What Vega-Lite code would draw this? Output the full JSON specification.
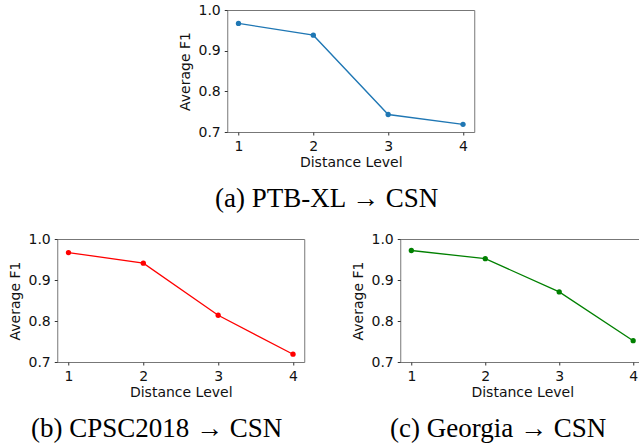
{
  "$schema": "https://vega.github.io/schema/vega-lite/v6.json",
  "padding": {"left": 8, "top": 2, "right": 0, "bottom": 0},
  "background": "white",
  "datasets": {
    "f1": [
      {"panel": "a", "level": 1, "f1": 0.967},
      {"panel": "a", "level": 2, "f1": 0.938},
      {"panel": "a", "level": 3, "f1": 0.743},
      {"panel": "a", "level": 4, "f1": 0.719},
      {"panel": "b", "level": 1, "f1": 0.967},
      {"panel": "b", "level": 2, "f1": 0.941},
      {"panel": "b", "level": 3, "f1": 0.814},
      {"panel": "b", "level": 4, "f1": 0.719},
      {"panel": "c", "level": 1, "f1": 0.972},
      {"panel": "c", "level": 2, "f1": 0.952},
      {"panel": "c", "level": 3, "f1": 0.871},
      {"panel": "c", "level": 4, "f1": 0.752}
    ]
  },
  "data": {"name": "f1"},
  "center": true,
  "spacing": 18,
  "vconcat": [
    {
      "width": 247,
      "height": 122,
      "title": {"text": "(a) PTB-XL → CSN"},
      "transform": [{"filter": "datum.panel == 'a'"}],
      "encoding": {
        "x": {"field": "level", "type": "quantitative", "scale": {"domain": [0.85, 4.15], "nice": false, "zero": false}, "axis": {"values": [1, 2, 3, 4], "format": "d", "title": "Distance Level"}},
        "y": {"field": "f1", "type": "quantitative", "scale": {"domain": [0.7, 1.0], "nice": false, "zero": false}, "axis": {"values": [0.7, 0.8, 0.9, 1.0], "format": ".1f", "title": "Average F1"}}
      },
      "layer": [
        {"mark": {"type": "line", "color": "#1f77b4", "strokeWidth": 1.3}},
        {"mark": {"type": "point", "filled": true, "size": 28, "opacity": 1, "color": "#1f77b4"}}
      ]
    },
    {
      "spacing": 46,
      "hconcat": [
        {
          "width": 247,
          "height": 123,
          "title": {"text": "(b) CPSC2018 → CSN"},
          "transform": [{"filter": "datum.panel == 'b'"}],
          "encoding": {
            "x": {"field": "level", "type": "quantitative", "scale": {"domain": [0.85, 4.15], "nice": false, "zero": false}, "axis": {"values": [1, 2, 3, 4], "format": "d", "title": "Distance Level"}},
            "y": {"field": "f1", "type": "quantitative", "scale": {"domain": [0.7, 1.0], "nice": false, "zero": false}, "axis": {"values": [0.7, 0.8, 0.9, 1.0], "format": ".1f", "title": "Average F1"}}
          },
          "layer": [
            {"mark": {"type": "line", "color": "#ff0000", "strokeWidth": 1.3}},
            {"mark": {"type": "point", "filled": true, "size": 28, "opacity": 1, "color": "#ff0000"}}
          ]
        },
        {
          "width": 244,
          "height": 123,
          "title": {"text": "(c) Georgia → CSN"},
          "transform": [{"filter": "datum.panel == 'c'"}],
          "encoding": {
            "x": {"field": "level", "type": "quantitative", "scale": {"domain": [0.85, 4.15], "nice": false, "zero": false}, "axis": {"values": [1, 2, 3, 4], "format": "d", "title": "Distance Level"}},
            "y": {"field": "f1", "type": "quantitative", "scale": {"domain": [0.7, 1.0], "nice": false, "zero": false}, "axis": {"values": [0.7, 0.8, 0.9, 1.0], "format": ".1f", "title": "Average F1"}}
          },
          "layer": [
            {"mark": {"type": "line", "color": "#008000", "strokeWidth": 1.3}},
            {"mark": {"type": "point", "filled": true, "size": 28, "opacity": 1, "color": "#008000"}}
          ]
        }
      ]
    }
  ],
  "config": {
    "view": {"stroke": "#777777", "strokeWidth": 1},
    "axis": {
      "grid": false,
      "domain": false,
      "tickColor": "#333333",
      "tickSize": 3,
      "labelPadding": 4,
      "labelFont": "DejaVu Sans",
      "labelFontSize": 14,
      "labelColor": "#111111",
      "titleFont": "DejaVu Sans",
      "titleFontSize": 14,
      "titleFontWeight": "normal",
      "titleColor": "#111111"
    },
    "axisX": {"titlePadding": 2, "labelFlush": false},
    "axisY": {"titlePadding": 5, "labelFlush": false},
    "title": {
      "orient": "bottom",
      "anchor": "middle",
      "frame": "bounds",
      "font": "Liberation Serif",
      "fontSize": 27,
      "fontWeight": "normal",
      "color": "#000000",
      "offset": 17
    }
  }
}
